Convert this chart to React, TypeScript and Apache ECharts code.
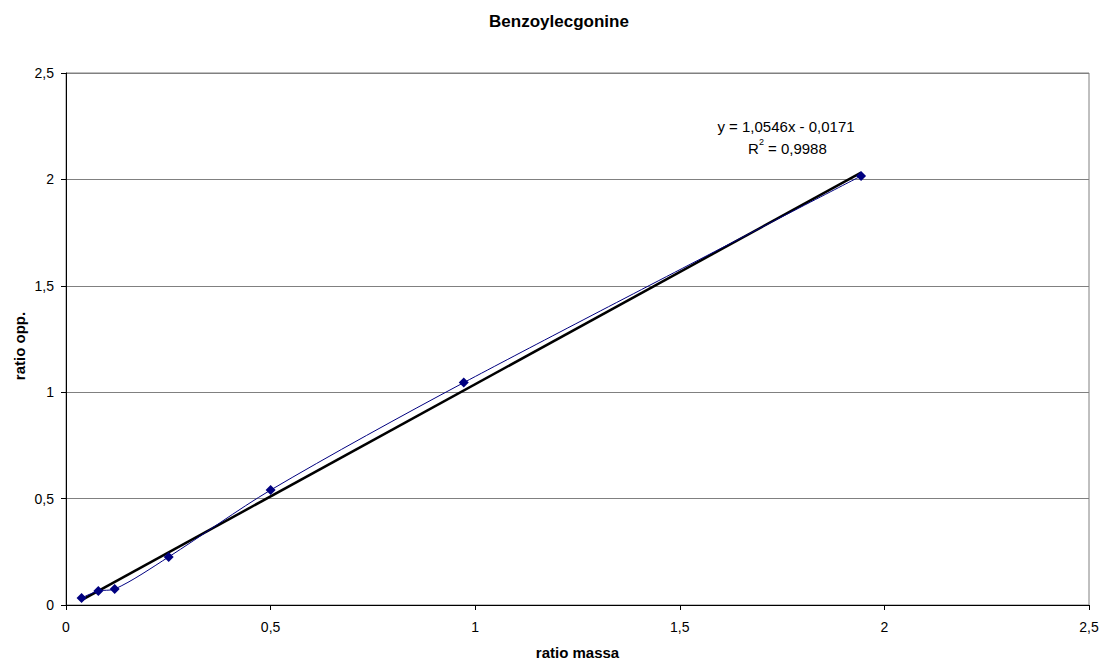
import React, { useEffect, useRef } from "react";
import * as echarts from "echarts";

const title = "Benzoylecgonine";
const xName = "ratio massa";
const yName = "ratio opp.";
const ratioMassa = [0.038, 0.079, 0.119, 0.251, 0.5, 0.972, 1.943];
const ratioOpp = [0.033, 0.066, 0.075, 0.226, 0.54, 1.045, 2.016];
const slope = 1.0546;
const intercept = -0.0171;
const rSquared = "0,9988";

const fmt = (v: number) => String(v).replace(".", ",");

export default function App() {
  const ref = useRef<HTMLDivElement>(null);
  useEffect(() => {
    if (!ref.current) return;
    const chart = echarts.init(ref.current, null, { renderer: "svg" });
    const xMin = Math.min(...ratioMassa);
    const xMax = Math.max(...ratioMassa);
    const trend = [
      [xMin, slope * xMin + intercept],
      [xMax, slope * xMax + intercept],
    ];
    const font = "'Liberation Sans', Arial, sans-serif";
    chart.setOption({
      animation: false,
      backgroundColor: "#ffffff",
      textStyle: { fontFamily: font },
      title: {
        text: title,
        left: 554,
        textAlign: "center",
        top: 8,
        textStyle: { fontSize: 17, fontWeight: "bold", color: "#000", fontFamily: font },
      },
      grid: {
        left: 66,
        right: 14,
        top: 73,
        bottom: 55,
        containLabel: false,
        outerBoundsMode: "none",
        show: true,
        borderColor: "#808080",
        borderWidth: 1,
        backgroundColor: "transparent",
      },
      xAxis: {
        type: "value",
        min: 0,
        max: 2.5,
        interval: 0.5,
        name: xName,
        nameLocation: "middle",
        nameGap: 40,
        nameTextStyle: { fontSize: 15, fontWeight: "bold", color: "#000", fontFamily: font },
        axisLine: { show: true, onZero: false, lineStyle: { color: "#000", width: 1 } },
        axisTick: { show: true, length: 5, lineStyle: { color: "#000" } },
        axisLabel: { formatter: fmt, fontSize: 14, color: "#000", margin: 15, fontFamily: font },
        splitLine: { show: false },
      },
      yAxis: {
        type: "value",
        min: 0,
        max: 2.5,
        interval: 0.5,
        axisLine: { show: true, onZero: false, lineStyle: { color: "#000", width: 1 } },
        axisTick: { show: true, length: 5, lineStyle: { color: "#000" } },
        axisLabel: { formatter: fmt, fontSize: 14, color: "#000", margin: 12, fontFamily: font },
        splitLine: { show: true, lineStyle: { color: "#808080", width: 1 } },
      },
      series: [
        {
          type: "line",
          data: trend,
          showSymbol: false,
          symbol: "none",
          lineStyle: { color: "#000", width: 2.5 },
          z: 2,
        },
        {
          type: "line",
          data: ratioMassa.map((x, i) => [x, ratioOpp[i]]),
          smooth: 0.3,
          symbol: "diamond",
          symbolSize: 10,
          itemStyle: { color: "#000080" },
          lineStyle: { color: "#000080", width: 1 },
          z: 3,
        },
      ],
      graphic: [
        {
          type: "text",
          x: 19,
          y: 346,
          rotation: Math.PI / 2,
          style: {
            text: yName,
            fill: "#000",
            font: `bold 15px ${font}`,
            textAlign: "center",
            textVerticalAlign: "middle",
          },
        },
        {
          type: "text",
          x: 786,
          y: 126,
          style: {
            text: `y = ${fmt(slope)}x - ${fmt(Math.abs(intercept))}`,
            fill: "#000",
            font: `15px ${font}`,
            textAlign: "center",
            textVerticalAlign: "middle",
          },
        },
        {
          type: "text",
          x: 748,
          y: 148,
          style: {
            text: "R",
            fill: "#000",
            font: `15px ${font}`,
            textAlign: "left",
            textVerticalAlign: "middle",
          },
        },
        {
          type: "text",
          x: 759,
          y: 142,
          style: {
            text: "2",
            fill: "#000",
            font: `9px ${font}`,
            textAlign: "left",
            textVerticalAlign: "middle",
          },
        },
        {
          type: "text",
          x: 768,
          y: 148,
          style: {
            text: `= ${rSquared}`,
            fill: "#000",
            font: `15px ${font}`,
            textAlign: "left",
            textVerticalAlign: "middle",
          },
        },
      ],
    });
    return () => chart.dispose();
  }, []);
  return <div ref={ref} style={{ width: 1103, height: 660, position: "absolute", left: 0, top: 0 }} />;
}
